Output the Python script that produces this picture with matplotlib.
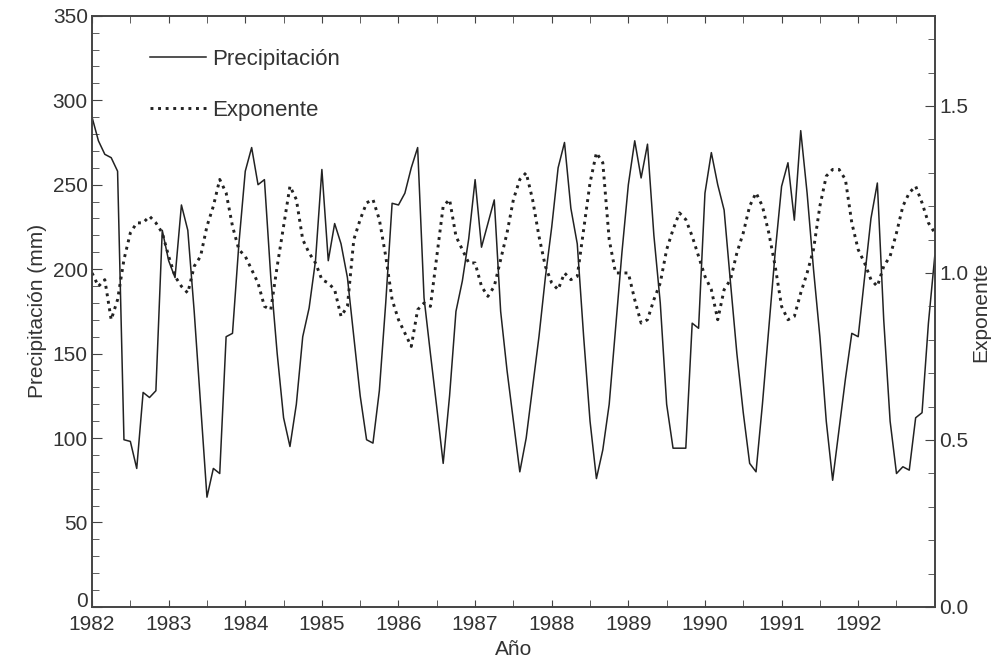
import numpy as np
import matplotlib
matplotlib.use("Agg")
import matplotlib.pyplot as plt
import matplotlib.transforms as mtransforms
from matplotlib.ticker import MultipleLocator, FixedLocator

plt.rcParams['font.family'] = ['Liberation Sans', 'DejaVu Sans']

# monthly values, Jan 1982 .. Jan 1993
precipitacion = [
    290, 276, 268, 266, 258, 99, 98, 82, 127, 124, 128, 223,
    205, 195, 238, 223, 175, 120, 65, 82, 79, 160, 162, 215,
    258, 272, 250, 253, 195, 150, 112, 95, 120, 160, 177, 205,
    259, 205, 227, 215, 195, 160, 125, 99, 97, 128, 180, 239,
    238, 245, 260, 272, 183, 150, 118, 85, 125, 175, 193, 218,
    253, 213, 227, 241, 175, 140, 110, 80, 100, 130, 160, 195,
    225, 260, 275, 236, 215, 160, 110, 76, 93, 120, 165, 210,
    250, 276, 254, 274, 220, 180, 120, 94, 94, 94, 168, 165,
    245, 269, 250, 235, 192, 150, 115, 85, 80, 120, 165, 210,
    249, 263, 229, 282, 245, 200, 160, 110, 75, 105, 135, 162,
    160, 195, 230, 251, 170, 110, 79, 83, 81, 112, 115, 168,
    208,
]
exponente = [
    1.00, 0.96, 0.98, 0.86, 0.92, 1.04, 1.12, 1.15, 1.15, 1.17, 1.15, 1.12,
    1.05, 0.99, 0.96, 0.94, 1.02, 1.05, 1.14, 1.20, 1.28, 1.24, 1.14, 1.07,
    1.05, 1.01, 0.97, 0.90, 0.89, 1.02, 1.14, 1.26, 1.22, 1.10, 1.06, 1.03,
    0.98, 0.97, 0.95, 0.87, 0.90, 1.10, 1.16, 1.21, 1.22, 1.16, 1.05, 0.92,
    0.86, 0.82, 0.78, 0.89, 0.91, 0.90, 1.05, 1.20, 1.22, 1.11, 1.07, 1.03,
    1.03, 0.96, 0.93, 0.96, 1.04, 1.12, 1.22, 1.28, 1.30, 1.22, 1.11, 1.02,
    0.97, 0.95, 1.00, 0.98, 0.99, 1.13, 1.27, 1.36, 1.33, 1.10, 1.00, 1.00,
    1.00, 0.92, 0.85, 0.86, 0.92, 0.97, 1.07, 1.13, 1.18, 1.16, 1.11, 1.05,
    0.99, 0.95, 0.86, 0.95, 0.98, 1.06, 1.12, 1.20, 1.24, 1.20, 1.12, 1.02,
    0.90, 0.86, 0.87, 0.94, 1.00, 1.07, 1.20, 1.29, 1.31, 1.31, 1.28, 1.15,
    1.07, 1.03, 0.98, 0.96, 1.02, 1.05, 1.12, 1.20, 1.24, 1.26, 1.21, 1.15,
    1.12,
]
anios = list(range(1982, 1993))

t = 1982 + np.arange(len(precipitacion)) / 12.0

txt = '#333333'
fig = plt.figure(figsize=(9.95, 6.59), dpi=100)
ax = fig.add_axes([0.0925, 0.079, 0.847, 0.897])
ax2 = ax.twinx()

l1, = ax.plot(t, precipitacion, color='#222222', lw=1.1, label='Precipitación')
l2, = ax2.plot(t, exponente, color='#222222', lw=2.1, ls=(0, (1, 1.6)),
               label='Exponente')

ax.set_xlim(1982, 1993)
ax.set_ylim(0, 350)
ax2.set_ylim(0, 1.77)

ax.xaxis.set_major_locator(FixedLocator(anios))
ax.set_xticklabels([str(a) for a in anios])
ax.xaxis.set_minor_locator(MultipleLocator(0.5))
ax.yaxis.set_major_locator(MultipleLocator(50))
ax.yaxis.set_minor_locator(MultipleLocator(10))
ax2.yaxis.set_major_locator(MultipleLocator(0.5))
ax2.yaxis.set_minor_locator(MultipleLocator(0.1))
ax2.yaxis.set_major_formatter(matplotlib.ticker.FormatStrFormatter('%.1f'))

ax.tick_params(axis='both', which='both', direction='in', colors='#444444',
               labelcolor=txt, labelsize=15)
ax.tick_params(axis='x', which='both', top=True, pad=6)
ax.tick_params(axis='y', pad=3)
ax.tick_params(which='major', length=7)
ax.tick_params(which='minor', length=5)
ax.tick_params(axis='x', which='major', length=5)
ax2.tick_params(axis='y', which='both', direction='in', colors='#444444',
                labelcolor=txt, labelsize=15, pad=3)
ax2.tick_params(which='major', length=7)
ax2.tick_params(which='minor', length=5)

for a in (ax, ax2):
    for s in a.spines.values():
        s.set_color('#444444')
        s.set_linewidth(1.2)

ax.set_xlabel('Año', fontsize=15, color=txt, labelpad=4)
ax.set_ylabel('Precipitación (mm)', fontsize=15, color=txt, labelpad=4)
ax2.set_ylabel('Exponente', fontsize=15, color=txt, labelpad=2)

leg = ax.legend([l1, l2], ['Precipitación', 'Exponente'], loc='upper left',
                bbox_to_anchor=(0.045, 0.978), frameon=False, fontsize=16,
                handlelength=2.5, labelspacing=1.35, handletextpad=0.3)
for tx in leg.get_texts():
    tx.set_color(txt)

# lift the "0" label a little so it clears "1982"
fig.canvas.draw()
shift = mtransforms.ScaledTranslation(0, 5 / 72, fig.dpi_scale_trans)
for tk in ax.yaxis.get_major_ticks():
    if abs(tk.get_loc()) < 1e-9:
        tk.label1.set_transform(tk.label1.get_transform() + shift)

fig.savefig('out.png', dpi=100)
